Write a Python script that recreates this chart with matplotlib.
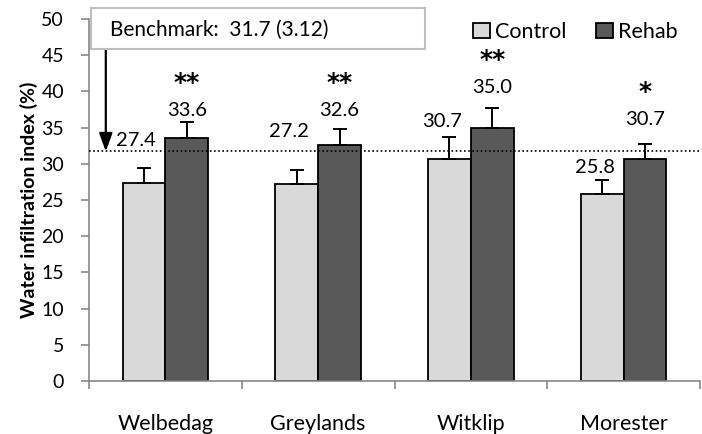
import numpy as np
import matplotlib.pyplot as plt
from matplotlib.patches import Rectangle

sites = ['Welbedag', 'Greylands', 'Witklip', 'Morester']
control = [27.4, 27.2, 30.7, 25.8]
rehab = [33.6, 32.6, 35.0, 30.7]
control_err = [2.0, 2.0, 3.0, 1.9]
rehab_err = [2.2, 2.2, 2.7, 2.1]
signif = ['**', '**', '**', '*']
benchmark = 31.7
benchmark_sd = 3.12

# label placement tweaks (gap above error cap, in data units)
control_gap = [3.8, 5.3, 2.2, 1.8]
rehab_gap = [1.6, 2.6, 2.8, 3.3]

plt.rcParams['font.family'] = ['Lato', 'DejaVu Sans']

W, H = 702, 434
fig = plt.figure(figsize=(W/100, H/100), dpi=100)
ax = fig.add_axes([89/W, 1-381/H, 611/W, 362/H])

x = np.arange(len(sites))
w = 0.28
n = len(sites)
ekw = dict(ecolor='black', elinewidth=1.4, capsize=5, capthick=1.4)
ax.bar(x - w/2, control, w, color='#d9d9d9', edgecolor='black', linewidth=1.3,
       yerr=[[0]*n, control_err], error_kw=ekw, label='Control', zorder=2)
ax.bar(x + w/2, rehab, w, color='#595959', edgecolor='black', linewidth=1.3,
       yerr=[[0]*n, rehab_err], error_kw=ekw, label='Rehab', zorder=2)

for i in range(n):
    yc = control[i] + control_err[i] + control_gap[i]
    ax.text(x[i] - w/2 - 0.05, yc, f'{control[i]:.1f}', ha='center', va='center', fontsize=14.5)
    yr = rehab[i] + rehab_err[i] + rehab_gap[i]
    ax.text(x[i] + w/2, yr, f'{rehab[i]:.1f}', ha='center', va='center', fontsize=14.5)
    ax.text(x[i] + w/2, yr + 3.8, signif[i], ha='center', va='center', fontsize=18,
            fontweight='bold', family='DejaVu Sans')

ax.axhline(benchmark, color='black', linestyle=(0, (1, 1.5)), linewidth=1.2, zorder=3)

# benchmark box and arrow
fig.patches.append(Rectangle((91/W, 1-49/H), 334/W, 41/H, transform=fig.transFigure,
                             facecolor='white', edgecolor='#bfbfbf', linewidth=1.5, zorder=5))
fig.text(110/W, 1-30/H, f'Benchmark:  {benchmark} ({benchmark_sd})', fontsize=15,
         va='center', ha='left', zorder=6)
ax.annotate('', xy=(-0.39, benchmark), xytext=(-0.39, 46.2),
            arrowprops=dict(arrowstyle='-|>,head_length=1.1,head_width=0.4', color='black',
                            lw=1.6, shrinkA=0, shrinkB=0),
            zorder=4)

ax.set_xlim(-0.5, n - 0.5)
ax.set_ylim(0, 50)
ax.set_yticks(range(0, 51, 5))
ax.set_xticks(x)
ax.set_xticklabels(sites, fontsize=15.5)
ax.set_xticks(np.arange(-0.5, n), minor=True)
ax.tick_params(axis='x', which='major', length=0, pad=24)
ax.tick_params(axis='x', which='minor', length=6, color='#888888', width=1.2)
ax.tick_params(axis='y', labelsize=14, length=6, color='#888888', width=1.2, pad=12)
for s in ['top', 'right']:
    ax.spines[s].set_visible(False)
for s in ['left', 'bottom']:
    ax.spines[s].set_color('#888888')
    ax.spines[s].set_linewidth(1.2)
ax.set_ylabel('Water infiltration index (%)', fontsize=14, fontweight='bold')
ax.yaxis.set_label_coords((38 - 89) / 611, 0.5)

ax.legend(loc='upper right', bbox_to_anchor=(0.995, 1.045), ncol=2, frameon=False, fontsize=15.5,
          handlelength=0.75, handleheight=0.75, handletextpad=0.25, columnspacing=1.4)

fig.savefig('out.png', dpi=100)
